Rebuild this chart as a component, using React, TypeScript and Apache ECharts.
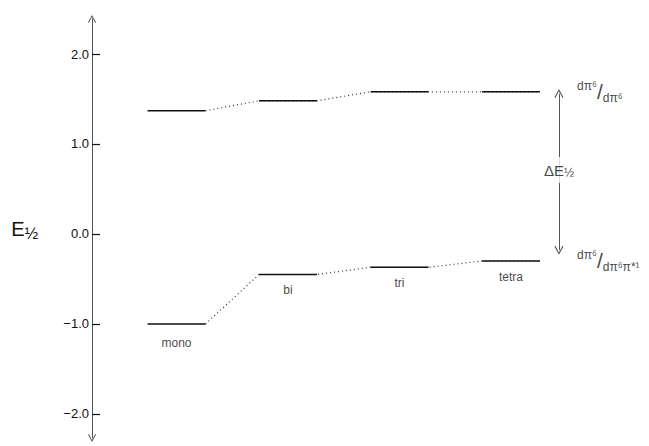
import React, { useEffect, useRef } from 'react';
import * as echarts from 'echarts';

const complexes = ['mono', 'bi', 'tri', 'tetra'];
const upperLevels = [1.37, 1.48, 1.58, 1.58];
const lowerLevels = [-1.0, -0.45, -0.37, -0.3];
const yTicks = [-2, -1, 0, 1, 2];
const yMin = -2.267;
const yMax = 2.389;
const upperStateLabel = '{n|dπ⁶}{sl|/}{d|dπ⁶}';
const lowerStateLabel = '{n|dπ⁶}{sl|/}{d|dπ⁶π*¹}';
const deltaLabel = 'ΔE{s|½}';
const arrowX = 3.43;
const arrowTop = 1.56;
const arrowBottom = -0.18;
const deltaLabelY = 0.71;

const HALF = 0.26;
const FONT = '"Liberation Sans", Arial, sans-serif';
const CHEVRON = 'path://M5,0 L10,9 L9,10 L5,2.4 L1,10 L0,9 Z';

export default function App() {
  const ref = useRef<HTMLDivElement>(null);
  useEffect(() => {
    if (!ref.current) return;
    const chart = echarts.init(ref.current, undefined, { renderer: 'svg' });

    const dotted = (levels: number[]) => {
      const pts: number[][] = [];
      levels.forEach((v, i) => {
        if (i > 0) pts.push([i - HALF, v]);
        pts.push([i + HALF, v]);
      });
      return pts;
    };

    const solidSeries: any[] = [];
    [upperLevels, lowerLevels].forEach((levels) => {
      levels.forEach((v, i) => {
        solidSeries.push({
          type: 'line',
          data: [[i - HALF, v], [i + HALF, v]],
          symbol: 'none',
          lineStyle: { color: '#111', width: 1.4 },
          z: 4,
          silent: true,
        });
      });
    });

    const fracRich = {
      n: { fontSize: 12, fontFamily: FONT, color: '#111', verticalAlign: 'top', lineHeight: 13 },
      sl: { fontSize: 21, fontFamily: FONT, color: '#111', lineHeight: 24 },
      d: { fontSize: 12, fontFamily: FONT, color: '#111', verticalAlign: 'bottom', lineHeight: 13 },
    };

    chart.setOption({
      animation: false,
      grid: { left: 92, right: 26.5, top: 19, bottom: 8 },
      xAxis: { type: 'value', min: -0.758, max: 4, show: false },
      yAxis: {
        type: 'value',
        min: yMin,
        max: yMax,
        name: 'E{s|½}',
        nameLocation: 'middle',
        nameRotate: 0,
        nameGap: 54,
        nameTextStyle: {
          fontSize: 20,
          fontFamily: FONT,
          color: '#111',
          rich: { s: { fontSize: 16, fontFamily: FONT, color: '#111', verticalAlign: 'bottom', padding: [10, 0, 0, 0] } },
        },
        axisLine: {
          show: true,
          onZero: false,
          symbol: [CHEVRON, CHEVRON],
          symbolSize: [8, 9],
          lineStyle: { color: '#555', width: 1 },
        },
        axisTick: {
          show: true,
          inside: true,
          length: 8,
          customValues: yTicks,
          lineStyle: { color: '#111', width: 1.2 },
        },
        axisLabel: {
          customValues: yTicks,
          margin: 3,
          fontSize: 13,
          fontFamily: FONT,
          color: '#111',
          formatter: (v: number) => v.toFixed(1).replace('-', '−'),
        },
        splitLine: { show: false },
      },
      series: [
        {
          type: 'line',
          data: dotted(upperLevels),
          symbol: 'none',
          lineStyle: { color: '#333', width: 1.2, type: [1, 3] },
          silent: true,
          z: 2,
        },
        {
          type: 'line',
          data: dotted(lowerLevels),
          symbol: 'none',
          lineStyle: { color: '#333', width: 1.2, type: [1, 3] },
          silent: true,
          z: 2,
          markLine: {
            silent: true,
            symbol: [CHEVRON, CHEVRON],
            symbolSize: [9, 9],
            lineStyle: { color: '#555', width: 1, type: 'solid' },
            label: { show: false },
            data: [[{ coord: [arrowX, arrowTop] }, { coord: [arrowX, arrowBottom] }]],
          },
        },
        ...solidSeries,
        {
          type: 'scatter',
          symbolSize: 0,
          silent: true,
          data: complexes.map((c, i) => ({
            value: [i, lowerLevels[i]],
            name: c,
            label: i === 0 ? { distance: 13 } : undefined,
          })),
          label: {
            show: true,
            position: 'bottom',
            distance: 10,
            formatter: (p: any) => p.name,
            fontSize: 12,
            fontFamily: FONT,
            color: '#111',
          },
        },
        {
          type: 'scatter',
          symbolSize: 0,
          silent: true,
          data: [
            { value: [3 + HALF, upperLevels[3]], name: upperStateLabel },
            { value: [3 + HALF, lowerLevels[3]], name: lowerStateLabel },
          ],
          label: {
            show: true,
            position: 'right',
            distance: 37,
            formatter: (p: any) => p.name,
            rich: fracRich,
          },
        },
        {
          type: 'scatter',
          symbolSize: 0,
          silent: true,
          z: 6,
          data: [{ value: [arrowX, deltaLabelY], name: deltaLabel }],
          label: {
            show: true,
            position: 'inside',
            formatter: (p: any) => p.name,
            backgroundColor: '#fff',
            padding: [4, 1],
            fontSize: 15,
            fontFamily: FONT,
            color: '#111',
            rich: { s: { fontSize: 12, fontFamily: FONT, color: '#111', verticalAlign: 'bottom', padding: [6, 0, 0, 0] } },
          },
        },
      ],
    });
    return () => chart.dispose();
  }, []);
  return (
    <div
      ref={ref}
      style={{ position: 'absolute', left: 0, top: 0, width: 649, height: 446, background: '#fff' }}
    />
  );
}
